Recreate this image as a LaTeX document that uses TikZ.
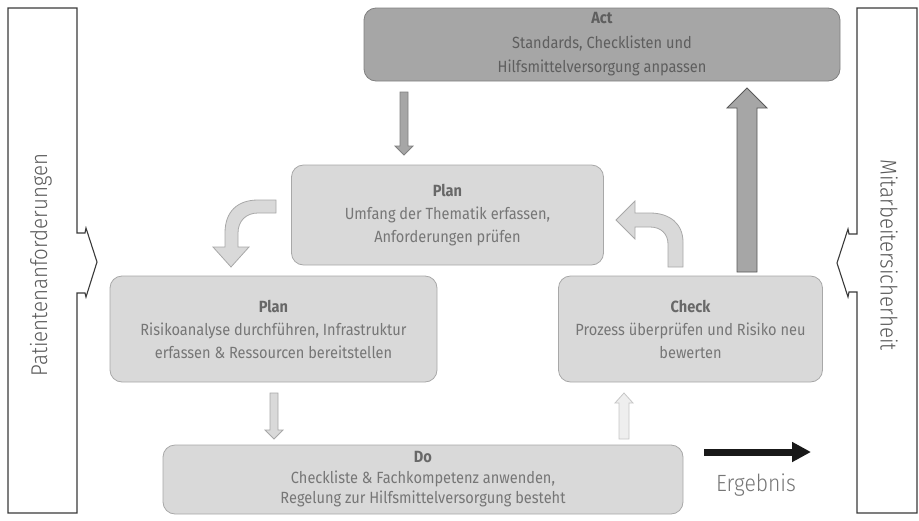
\documentclass[tikz,border=0pt]{standalone}
\usepackage{fontspec}
\setmainfont[FakeStretch=0.9]{Fira Sans}
\IfFontExistsTF{Fira Sans Light}
  {\newfontfamily\sidefont[FakeStretch=0.9]{Fira Sans Light}}
  {\newfontfamily\sidefont[FakeStretch=0.9]{Fira Sans}}
\usetikzlibrary{arrows.meta}
\definecolor{actfill}{HTML}{A6A6A6}
\definecolor{actdraw}{HTML}{808080}
\definecolor{actText}{HTML}{5E5E5E}
\definecolor{boxfill}{HTML}{D9D9D9}
\definecolor{boxdraw}{HTML}{A8A8A8}
\definecolor{boxText}{HTML}{767676}
\definecolor{titleText}{HTML}{686868}
\definecolor{sideDraw}{HTML}{3A3A3A}
\definecolor{sideText}{HTML}{5A5A5A}
\definecolor{paleFill}{HTML}{EEEEEE}
\definecolor{paleDraw}{HTML}{C6C6C6}
\begin{document}
\begin{tikzpicture}[x=1pt,y=-1pt,
  phasebox/.style={draw=boxdraw, fill=boxfill, rounded corners=12pt, line width=0.8pt,
    inner sep=0pt, align=center, text=boxText,
    font=\fontsize{16.2pt}{23pt}\selectfont},
  actbox/.style={phasebox, fill=actfill, draw=actdraw, text=actText,
    font=\fontsize{16.2pt}{24.5pt}\selectfont},
  sidebox/.style={draw=sideDraw, fill=white, line width=1.1pt, line join=miter},
  sidetext/.style={text=sideText, font=\sidefont\fontsize{22.8pt}{24pt}\selectfont},
  darkblock/.style={fill=actfill, draw=actdraw, line width=0.8pt},
  bigblock/.style={fill=actfill, draw=black!65, line width=0.8pt},
  lightblock/.style={fill=boxfill, draw=boxdraw, line width=0.8pt},
  paleblock/.style={fill=paleFill, draw=paleDraw, line width=0.8pt}]
\useasboundingbox (0,0) rectangle (919,520);

% side frames
\draw[sidebox] (8,8) -- (77,8) -- (77,233) -- (85,233) -- (86,228) -- (97,262)
  -- (86,297) -- (85,293) -- (77,293) -- (77,513) -- (8,513) -- cycle;
\draw[sidebox] (857,8) -- (917,8) -- (917,513) -- (857,513) -- (857,292) -- (849,292)
  -- (848,297) -- (837,263) -- (848,229) -- (849,234) -- (857,234) -- cycle;
\node[sidetext, rotate=90] (pat) at (41,265) {Patientenanforderungen};
\node[sidetext, rotate=-90] (mit) at (889,255) {Mitarbeitersicherheit};

% boxes
\node[actbox, minimum width=476pt, minimum height=73pt] (act) at (602,44.5)
  {{\bfseries Act}\\Standards, Checklisten und\\Hilfsmittelversorgung anpassen};
\node[phasebox, minimum width=312pt, minimum height=100pt] (plan1) at (447.5,215)
  {{\bfseries\color{titleText}Plan}\\Umfang der Thematik erfassen,\\Anforderungen prüfen};
\node[phasebox, minimum width=327pt, minimum height=106pt] (plan2) at (273.5,329)
  {{\bfseries\color{titleText}Plan}\\Risikoanalyse durchführen, Infrastruktur\\erfassen \& Ressourcen bereitstellen};
\node[phasebox, minimum width=264pt, minimum height=106pt] (check) at (690.5,329)
  {{\bfseries\color{titleText}Check}\\Prozess überprüfen und Risiko neu\\bewerten};
\node[phasebox, minimum width=520pt, minimum height=69pt,
  font=\fontsize{16.2pt}{20.5pt}\selectfont] (do) at (423,479.5)
  {{\bfseries\color{titleText}Do}\\Checkliste \& Fachkompetenz anwenden,\\Regelung zur Hilfsmittelversorgung besteht};

% block arrows
% act -> plan1
\draw[darkblock] (400,92) -- (408,92) -- (408,146) -- (413,146) -- (404,155)
  -- (395,146) -- (400,146) -- cycle;
% check -> act
\draw[bigblock] (737,272) -- (757,272) -- (757,108) -- (767,108) -- (747,88)
  -- (727,108) -- (737,108) -- cycle;
% plan2 -> do
\draw[lightblock] (270,393) -- (278,393) -- (278,430) -- (283,430) -- (274,439)
  -- (265,430) -- (270,430) -- cycle;
% do -> check
\draw[paleblock] (619,439) -- (629,439) -- (629,403) -- (633,403) -- (624,393)
  -- (615,403) -- (619,403) -- cycle;
% plan1 -> plan2 (curved)
\draw[lightblock] (276,200) -- (258,200) .. controls (238,200) and (225,211) .. (225,233)
  -- (225,247) -- (213,247) -- (231,267) -- (249,247) -- (238,247) -- (238,233)
  .. controls (238,221) and (246,213) .. (258,213) -- (276,213) -- cycle;
% check -> plan1 (curved)
\draw[lightblock] (683,267) -- (683,242) .. controls (683,224) and (670,213) .. (650,213)
  -- (635,213) -- (635,201) -- (616,220) -- (635,239) -- (635,227) -- (650,227)
  .. controls (661,227) and (668,234) .. (668,244) -- (668,267) -- cycle;

% result
\coordinate (res0) at (704,452);
\coordinate (res1) at (811,452);
\draw[line width=7pt, -{Triangle[length=19pt,width=19pt]}, black!90] (res0) -- (res1);
\node[text=boxText, font=\sidefont\fontsize{23.5pt}{25pt}\selectfont] (erg) at (756,485) {Ergebnis};
\end{tikzpicture}
\end{document}
